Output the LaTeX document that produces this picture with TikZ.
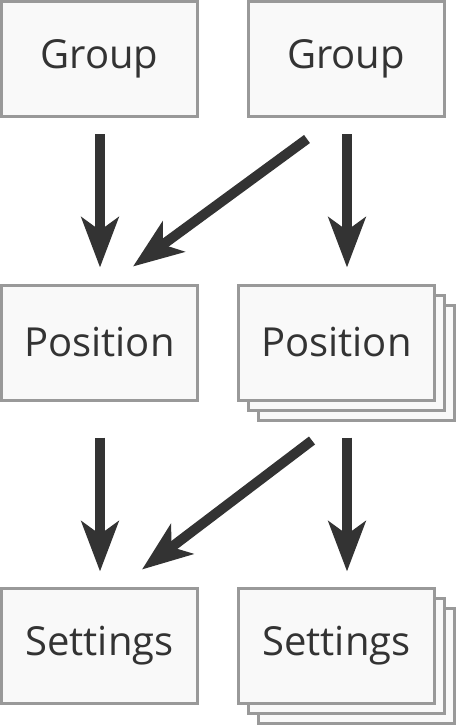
\documentclass[tikz,border=0pt]{standalone}
\usepackage{fontspec}
\setmainfont{Open Sans}
\usetikzlibrary{arrows.meta,calc,shadows}
\definecolor{boxfill}{HTML}{F9F9F9}
\definecolor{boxline}{HTML}{999999}
\definecolor{ink}{HTML}{333333}
\tikzset{
  box/.style={draw=boxline, fill=boxfill, line width=3pt, minimum width=196pt, minimum height=115pt, inner sep=0pt, text=ink, font=\fontsize{40}{48}\selectfont},
  stackbox/.style={box, double copy shadow={shadow xshift=10pt, shadow yshift=-10pt, draw=boxline, fill=boxfill, line width=3pt}},
  conn/.style={draw=ink, line width=10pt, -{Stealth[length=50pt, width=37pt, inset=13pt]}}
}
\begin{document}
\begin{tikzpicture}[x=1pt,y=-1pt]
\useasboundingbox (0,0) rectangle (457,726);
\node[box] (gl) at (99.5,59) {Group};
\node[box] (gr) at (346,59) {Group};
\node[box] (pl) at (99.5,342.5) {Position};
\node[stackbox] (pr) at (336.5,342.5) {Position};
\node[box] (sl) at (99.5,645.5) {Settings};
\node[stackbox] (sr) at (336.5,645.5) {Settings};
\draw[conn] ($(gl.south)+(0.5,16)$) -- ($(pl.north)+(0.5,-16)$);
\draw[conn] ($(gr.south)+(-39,21)$) -- ($(pl.north)+(33.5,-17)$);
\draw[conn] ($(gr.south)+(1,16)$) -- ($(gr.south |- pr.north)+(1,-16)$);
\draw[conn] ($(pl.south)+(0.5,36)$) -- ($(sl.north)+(0.5,-15)$);
\draw[conn] ($(pr.south)+(-24.5,39)$) -- ($(sl.north)+(42.5,-17)$);
\draw[conn] ($(pr.south)+(10.5,36)$) -- ($(pr.south |- sr.north)+(10.5,-15)$);
\end{tikzpicture}
\end{document}
